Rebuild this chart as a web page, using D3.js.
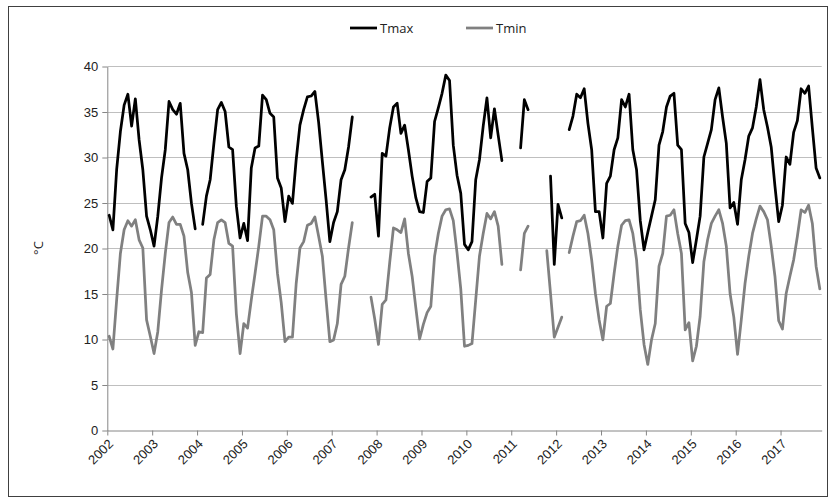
<!DOCTYPE html>
<html>
<head>
<meta charset="utf-8">
<script src="https://cdn.jsdelivr.net/npm/d3@7"></script>
<style>
  html, body { margin: 0; padding: 0; background: #fff; }
  svg { display: block; font-family: "Open Sans", "Noto Sans", sans-serif; }
</style>
</head>
<body>
<svg id="chart" width="829" height="499"></svg>
<script>
// Monthly mean temperatures, Jan 2002 – Nov 2017 (null = no record)
const years = ["2002","2003","2004","2005","2006","2007","2008","2009",
               "2010","2011","2012","2013","2014","2015","2016","2017"];

const tmax = [
  23.6, 22.0, 28.6, 32.8, 35.7, 36.9, 33.4, 36.4, 31.9, 28.6, 23.5, 22.0,   // 2002
  20.2, 23.5, 27.7, 30.8, 36.1, 35.2, 34.7, 35.9, 30.4, 28.6, 24.9, 22.1,   // 2003
  null, 22.6, 25.7, 27.5, 31.5, 35.2, 36.0, 35.0, 31.1, 30.8, 24.6, 21.1,   // 2004
  22.7, 20.8, 28.8, 31.0, 31.2, 36.8, 36.3, 34.8, 34.4, 27.7, 26.6, 22.9,   // 2005
  25.7, 24.9, 29.7, 33.5, 35.2, 36.6, 36.7, 37.2, 33.8, 29.5, 25.3, 20.7,   // 2006
  22.8, 24.0, 27.5, 28.6, 31.1, 34.4, null, null, null, null, 25.6, 25.9,   // 2007
  21.3, 30.4, 30.1, 33.2, 35.5, 35.9, 32.6, 33.5, 30.8, 27.9, 25.5, 24.0,   // 2008
  23.9, 27.3, 27.7, 33.9, 35.4, 37.0, 39.0, 38.4, 31.3, 28.0, 26.0, 20.4,   // 2009
  19.8, 20.7, 27.5, 29.7, 33.4, 36.5, 32.1, 35.3, 32.4, 29.6, null, null,   // 2010
  null, null, 31.0, 36.3, 35.2, null, null, null, null, null, 27.9, 18.2,   // 2011
  24.8, 23.3, null, 33.0, 34.5, 36.9, 36.5, 37.5, 33.7, 30.8, 24.0, 24.0,   // 2012
  21.1, 27.1, 27.9, 30.8, 32.1, 36.3, 35.5, 36.9, 30.8, 28.6, 23.0, 19.8,   // 2013
  21.7, 23.5, 25.3, 31.3, 32.8, 35.5, 36.7, 37.0, 31.3, 30.8, 22.7, 21.7,   // 2014
  18.4, 20.9, 23.5, 30.0, 31.5, 33.0, 36.3, 37.6, 34.4, 31.5, 24.4, 25.0,   // 2015
  22.6, 27.5, 29.7, 32.3, 33.2, 35.5, 38.5, 35.2, 33.3, 31.1, 26.8, 22.9,   // 2016
  24.7, 30.0, 29.2, 32.7, 34.0, 37.5, 37.0, 37.8, 33.2, 28.8, 27.7          // 2017
];

const tmin = [
  10.3,  8.9, 14.3, 19.4, 22.0, 23.0, 22.4, 23.1, 20.9, 20.0, 12.1, 10.3,   // 2002
   8.4, 10.8, 15.4, 19.4, 22.8, 23.4, 22.6, 22.6, 21.3, 17.3, 15.1,  9.3,   // 2003
  10.8, 10.7, 16.7, 17.1, 20.9, 22.8, 23.1, 22.8, 20.5, 20.2, 12.8,  8.4,   // 2004
  11.7, 11.2, 14.3, 17.2, 20.2, 23.5, 23.5, 23.1, 22.0, 17.2, 14.0,  9.7,   // 2005
  10.2, 10.2, 16.1, 20.0, 20.7, 22.5, 22.7, 23.4, 21.3, 19.1, 14.3,  9.7,   // 2006
   9.9, 11.7, 16.0, 16.9, 20.0, 22.8, null, null, null, null, 14.6, 12.2,   // 2007
   9.4, 13.8, 14.3, 18.4, 22.2, 22.0, 21.7, 23.2, 19.4, 16.9, 13.4, 10.0,   // 2008
  11.6, 12.9, 13.6, 19.1, 21.6, 23.5, 24.2, 24.3, 23.0, 19.5, 15.5,  9.2,   // 2009
   9.3,  9.5, 14.3, 19.1, 21.6, 23.8, 23.2, 24.0, 22.4, 18.2, null, null,   // 2010
  null, null, 17.6, 21.6, 22.4, null, null, null, null, 19.7, 15.0, 10.2,   // 2011
  11.3, 12.4, null, 19.5, 21.3, 22.9, 23.0, 23.6, 21.6, 18.7, 15.0, 12.1,   // 2012
   9.9, 13.6, 13.9, 17.2, 20.2, 22.5, 23.0, 23.1, 21.6, 18.7, 13.2,  9.4,   // 2013
   7.2,  9.9, 11.7, 18.0, 19.4, 23.5, 23.6, 24.2, 21.6, 19.4, 11.0, 11.8,   // 2014
   7.6,  9.2, 12.5, 18.5, 20.9, 22.7, 23.5, 24.2, 22.7, 20.2, 15.0, 12.4,   // 2015
   8.3, 12.1, 16.1, 19.1, 21.6, 23.2, 24.6, 24.0, 23.1, 20.2, 16.9, 12.0,   // 2016
  11.1, 15.0, 16.9, 18.7, 21.3, 24.2, 23.9, 24.7, 22.7, 18.0, 15.5          // 2017
];

const yTicks = [0, 5, 10, 15, 20, 25, 30, 35, 40];
const seriesNames = ["Tmax", "Tmin"];

const svg = d3.select("#chart");
const W = 829, H = 499;
const plot = { left: 107.3, right: 821.7, top: 66, bottom: 430 };
const colors = { Tmax: "#000000", Tmin: "#808080" };

// outer frame
svg.append("rect")
  .attr("x", 8.5).attr("y", 6.5)
  .attr("width", W - 10).attr("height", H - 9)
  .attr("fill", "none").attr("stroke", "#404040").attr("stroke-width", 1);

// months sit in the middle of their slot; year ticks fall on slot boundaries
const x = d3.scaleLinear().domain([-0.5, tmax.length - 0.5]).range([plot.left, plot.right]);
const y = d3.scaleLinear().domain([0, 40]).range([plot.bottom, plot.top]);

// horizontal gridlines
svg.append("g")
  .selectAll("line")
  .data(yTicks.filter(v => v > 0))
  .join("line")
  .attr("x1", plot.left).attr("x2", plot.right)
  .attr("y1", d => Math.round(y(d)) + 0.5).attr("y2", d => Math.round(y(d)) + 0.5)
  .attr("stroke", "#bfbfbf").attr("stroke-width", 1);

// y axis
const yAxis = svg.append("g")
  .attr("transform", `translate(${plot.left},0.5)`)
  .call(d3.axisLeft(y).tickValues(yTicks).tickSize(5).tickPadding(4).tickSizeOuter(0));
yAxis.select(".domain").attr("stroke", "#868686");
yAxis.selectAll(".tick line").attr("stroke", "#868686");
yAxis.selectAll("text")
  .attr("fill", "#222").style("font-size", "13px")
  .attr("x", -9);

// x axis
const xAxis = svg.append("g")
  .attr("transform", `translate(0,${Math.round(plot.bottom) + 0.5})`)
  .call(d3.axisBottom(x)
    .tickValues(years.map((_, k) => k * 12 - 0.5))
    .tickFormat((_, k) => years[k])
    .tickSize(5).tickSizeOuter(0));
xAxis.select(".domain").attr("stroke", "#868686");
xAxis.selectAll(".tick line").attr("stroke", "#868686");
xAxis.selectAll("text")
  .attr("fill", "#222").style("font-size", "13px")
  .attr("text-anchor", "end")
  .attr("x", 0).attr("y", 0).attr("dy", "0.35em")
  .attr("transform", "translate(3,11) rotate(-45)");

// y axis title
svg.append("text")
  .attr("transform", `translate(43,${(plot.top + plot.bottom) / 2}) rotate(-90)`)
  .attr("text-anchor", "middle")
  .attr("fill", "#222").style("font-size", "13px")
  .text("°C");

// series lines
const line = d3.line()
  .defined(d => d != null)
  .x((d, i) => x(i))
  .y(d => y(d));

[["Tmax", tmax], ["Tmin", tmin]].forEach(([name, vals]) => {
  svg.append("path")
    .datum(vals)
    .attr("fill", "none")
    .attr("stroke", colors[name])
    .attr("stroke-width", 2.75)
    .attr("stroke-linejoin", "round")
    .attr("stroke-linecap", "round")
    .attr("d", line);
});

// legend
const legend = svg.append("g").attr("transform", "translate(350,28)");
const legendX = [0, 116];
seriesNames.forEach((name, k) => {
  const g = legend.append("g").attr("transform", `translate(${legendX[k]},0)`);
  g.append("line")
    .attr("x1", 0).attr("x2", 27).attr("y1", 0).attr("y2", 0)
    .attr("stroke", colors[name]).attr("stroke-width", 2.75);
  g.append("text")
    .attr("x", 30).attr("dy", "0.35em")
    .attr("fill", "#222").style("font-size", "13px")
    .text(name);
});
</script>
</body>
</html>
